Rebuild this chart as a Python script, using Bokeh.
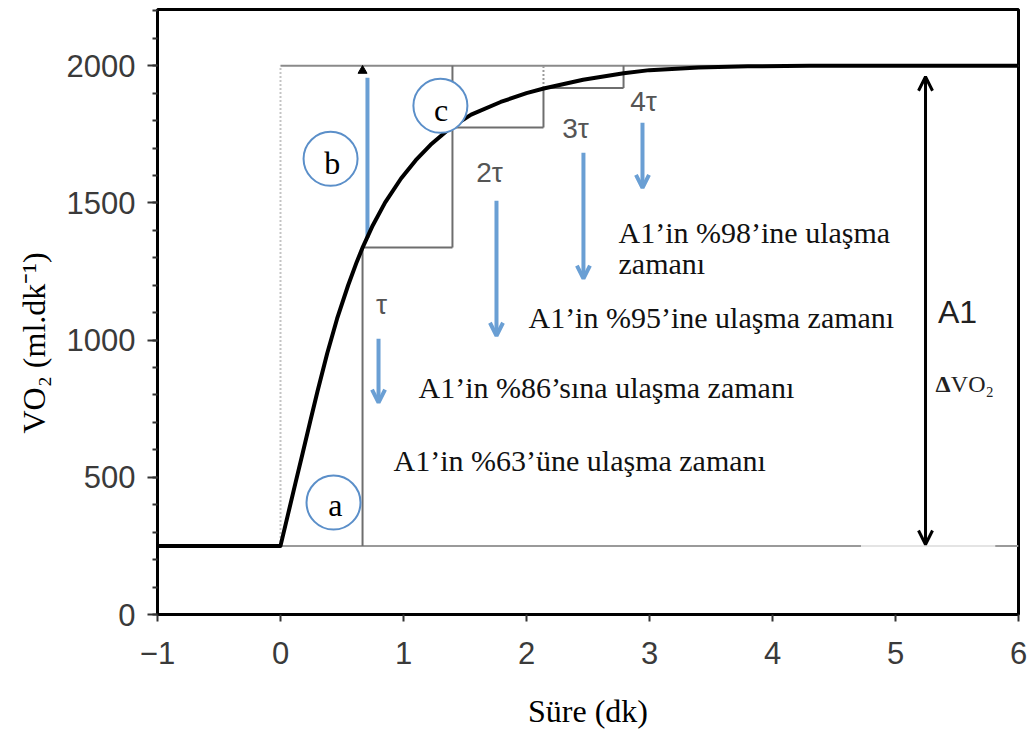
import math
from bokeh.plotting import figure
from bokeh.models import Range1d, FixedTicker, Arrow, OpenHead, Title
from bokeh.core.properties import value
from bokeh.embed import file_html
from bokeh.resources import INLINE

# ---- data ----
time_min = [-1.0, 0.0, 0.06, 0.12, 0.18, 0.24, 0.30, 0.38, 0.46, 0.55, 0.62, 0.67,
            0.75, 0.85, 0.98, 1.10, 1.22, 1.38, 1.55, 1.79, 2.00, 2.14, 2.46, 2.79,
            3.00, 3.40, 3.80, 4.30, 5.00, 6.00]
vo2 = [250, 250, 363, 476, 588, 701, 812, 952, 1078, 1200, 1285, 1340,
       1418, 1501, 1589, 1656, 1712, 1773, 1822, 1868, 1900, 1917, 1949, 1973,
       1984, 1994, 1998, 2000, 2000, 2000]
baseline = 250
plateau = 2000
tau_marks = [0.667, 1.398, 2.138, 2.789]      # tau, 2tau, 3tau, 4tau
step_levels = [1338, 1775, 1919]              # VO2 reached at tau, 2tau, 3tau
tau_labels = ["τ", "2τ", "3τ", "4τ"]
y_ticks = [0, 500, 1000, 1500, 2000]
x_ticks = [-1, 0, 1, 2, 3, 4, 5, 6]

SERIF = "Liberation Serif"
SANS = "Liberation Sans"
BLUE = "#6a9fd4"
GRAY = "#6e6e6e"

p = figure(width=1033, height=735, output_backend="svg", toolbar_location=None,
           x_range=Range1d(-1, 6), y_range=Range1d(0, 2205),
           min_border_left=157, min_border_right=15, min_border_top=9,
           min_border_bottom=121)
p.background_fill_color = "white"
p.border_fill_color = "white"
p.outline_line_color = "black"
p.outline_line_width = 3
p.grid.visible = False

# axes
p.xaxis.ticker = FixedTicker(ticks=x_ticks, minor_ticks=[])
p.xaxis.major_label_overrides = {-1: "−1"}
p.yaxis.ticker = FixedTicker(ticks=y_ticks, minor_ticks=list(range(0, 2201, 100)))
for ax in (p.xaxis[0], p.yaxis[0]):
    ax.axis_line_color = "black"
    ax.axis_line_width = 3
    ax.major_tick_line_color = "#333333"
    ax.major_tick_line_width = 2
    ax.major_tick_in = 0
    ax.minor_tick_line_color = "#333333"
    ax.minor_tick_line_width = 2
    ax.minor_tick_in = 0
    ax.major_label_text_font = SANS
    ax.major_label_text_font_size = "31px"
    ax.major_label_text_color = "#3a3a3a"
p.xaxis.major_tick_out = 7
p.xaxis.major_label_standoff = 20
p.yaxis.major_tick_out = 10
p.yaxis.minor_tick_out = 5
p.yaxis.major_label_standoff = 12

p.xaxis.axis_label = "Süre (dk)"
p.xaxis.axis_label_text_font = SERIF
p.xaxis.axis_label_text_font_size = "32px"
p.xaxis.axis_label_text_font_style = "normal"
p.xaxis.axis_label_text_color = "black"
p.xaxis.axis_label_standoff = 26

p.add_layout(Title(text="VO₂ (ml.dk⁻¹)", align="left", offset=181, standoff=24,
                   text_font=SERIF, text_font_size="32px", text_font_style="normal",
                   text_color="black"), "left")

# reference lines
p.segment(x0=[0], y0=[baseline], x1=[0], y1=[plateau], line_color="#c4c4c4",
          line_width=2, line_dash="2 2")
p.segment(x0=[0], y0=[plateau], x1=[6], y1=[plateau], line_color="#8a8a8a", line_width=2)
p.segment(x0=[0, 5.81], y0=[baseline, baseline], x1=[4.72, 6], y1=[baseline, baseline],
          line_color="#9a9a9a", line_width=2)
p.segment(x0=[4.72], y0=[baseline], x1=[5.81], y1=[baseline], line_color="#e4e4e4", line_width=2)

# tau staircase
t1, t2, t3, t4 = tau_marks
s1, s2, s3 = step_levels
p.segment(x0=[t1, t1, t2, t2, t3, t3, t4],
          y0=[baseline, s1, s1, s2, s2, s3, s3],
          x1=[t1, t2, t2, t3, t3, t4, t4],
          y1=[s1, s1, plateau, s2, s3, s3, plateau],
          line_color=GRAY, line_width=2)
p.segment(x0=[t3], y0=[s3], x1=[t3], y1=[plateau], line_color="#9a9a9a",
          line_width=2, line_dash="2 2")

# blue arrows
def blue_arrow(x, y0, y1):
    p.add_layout(Arrow(end=OpenHead(size=13, line_color=BLUE, line_width=4),
                       x_start=x, y_start=y0, x_end=x, y_end=y1,
                       line_color=BLUE, line_width=4))

blue_arrow(0.797, 1005, 772)
blue_arrow(1.756, 1508, 1016)
blue_arrow(2.463, 1683, 1224)
blue_arrow(2.943, 1792, 1555)

# b: blue bar with black arrowhead at the plateau
p.segment(x0=[0.707], y0=[1373], x1=[0.707], y1=[1956], line_color=BLUE, line_width=4)
p.scatter(x=[0.667], y=[1982], marker="triangle", size=9, color="black")

# main curve
p.line(time_min, vo2, line_color="black", line_width=4, line_join="round")

# double arrow A1
p.add_layout(Arrow(start=OpenHead(size=14, line_color="black", line_width=3),
                   end=OpenHead(size=14, line_color="black", line_width=3),
                   x_start=5.244, y_start=255, x_end=5.244, y_end=1960,
                   line_color="black", line_width=3))

# tau labels
p.text(x=[0.821, 1.699, 2.398, 2.951], y=[1129, 1610, 1770, 1869], text=tau_labels,
       text_font=value(SANS), text_font_size="28px", text_color="#555555",
       text_align="center", text_baseline="middle")

# circles a, b, c
p.scatter(x=[0.431, 0.407, 1.30], y=[408, 1661, 1854], marker="circle", size=54,
          fill_color="white", line_color="#5b8fc9", line_width=2)
p.text(x=[0.445, 0.42, 1.305], y=[398, 1645, 1840], text=["a", "b", "c"],
       text_font=value(SERIF), text_font_size="32px", text_color="black",
       text_align="center", text_baseline="middle")

# descriptive texts
p.text(x=[2.748, 2.748, 2.016, 1.122, 0.919],
       y=[1391, 1278, 1082, 827, 561],
       text=["A1’in %98’ine ulaşma", "zamanı", "A1’in %95’ine ulaşma zamanı",
             "A1’in %86’sına ulaşma zamanı", "A1’in %63’üne ulaşma zamanı"],
       text_font=value(SERIF), text_font_size="30px", text_color="#111111",
       text_align="left", text_baseline="alphabetic")

p.text(x=[5.504], y=[1104], text=["A1"], text_font=value(SANS), text_font_size="32px",
       text_color="#222222", text_align="center", text_baseline="middle")
p.text(x=[5.325], y=[841], text=["Δ"], text_font=value(SERIF), text_font_size="24px",
       text_font_style="bold", text_color="#222222", text_align="left",
       text_baseline="alphabetic")
p.text(x=[5.45], y=[841], text=["VO₂"], text_font=value(SERIF), text_font_size="24px",
       text_color="#222222", text_align="left", text_baseline="alphabetic")

open("out.html", "w").write(file_html(p, INLINE))
